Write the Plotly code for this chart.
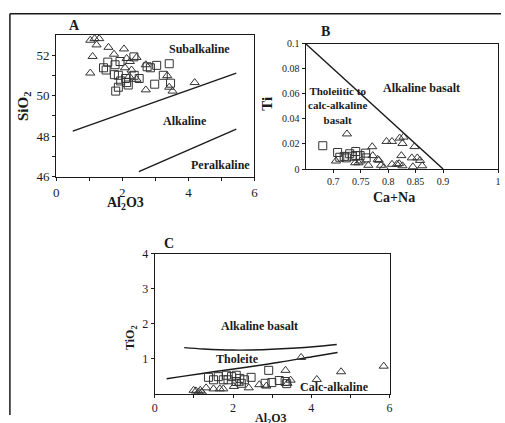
import plotly.graph_objects as go

W, H = 505, 423

# ---------------- Panel A data (Al2O3 vs SiO2) ----------------
a_tri_x = [1.03, 1.16, 1.30, 1.22, 1.10, 1.03, 1.58, 1.75, 2.05, 2.13, 2.08, 2.28, 2.23, 2.43, 2.21, 2.43, 2.71, 2.71, 3.36, 3.42, 3.52, 4.19]
a_tri_y = [52.74, 52.82, 52.82, 52.51, 51.94, 51.12, 52.39, 52.05, 52.31, 51.84, 51.38, 51.27, 51.69, 51.89, 50.96, 50.81, 50.29, 51.53, 50.99, 50.42, 50.23, 50.65]
a_sq_x = [1.43, 1.51, 1.56, 1.78, 1.93, 1.76, 1.88, 1.95, 2.10, 2.13, 2.18, 1.88, 1.80, 2.35, 2.36, 2.51, 2.75, 2.85, 3.04, 2.98, 3.24, 3.42, 3.46]
a_sq_y = [51.38, 51.27, 51.66, 51.53, 51.69, 51.04, 51.01, 50.73, 50.85, 50.65, 50.53, 50.42, 50.23, 51.92, 51.01, 50.85, 51.43, 51.38, 51.50, 50.57, 51.01, 51.58, 50.62]
a_line1_x = [0.5, 5.45]
a_line1_y = [48.25, 51.12]
a_line2_x = [2.5, 5.45]
a_line2_y = [46.25, 48.35]

# ---------------- Panel B data (Ca+Na vs Ti) ----------------
b_tri_x = [0.725, 0.705, 0.740, 0.746, 0.750, 0.764, 0.771, 0.772, 0.781, 0.783, 0.787, 0.792, 0.797, 0.807, 0.807, 0.816, 0.820, 0.821, 0.824, 0.826, 0.826, 0.828, 0.843, 0.845, 0.848, 0.853, 0.858, 0.862]
b_tri_y = [0.028, 0.0064, 0.005, 0.005, 0.0064, 0.003, 0.0178, 0.0107, 0.0077, 0.007, 0.003, 0.0013, 0.022, 0.022, 0.0038, 0.0038, 0.0043, 0.0247, 0.0107, 0.0204, 0.0026, 0.0255, 0.0089, 0.0018, 0.0179, 0.0089, 0.0069, 0.0026]
b_sq_x = [0.681, 0.708, 0.712, 0.720, 0.724, 0.730, 0.735, 0.741, 0.741, 0.749, 0.759, 0.760]
b_sq_y = [0.0186, 0.0132, 0.0094, 0.0101, 0.0089, 0.0122, 0.0102, 0.014, 0.0107, 0.0107, 0.0127, 0.0089]
b_line_x = [0.65, 0.90]
b_line_y = [0.10, 0.0]

# ---------------- Panel C data (Al2O3 vs TiO2) ----------------
c_tri_x = [3.74, 3.34, 4.76, 5.85, 4.14, 3.47, 3.39, 2.67, 2.40, 2.02, 1.75, 1.66, 1.50, 1.31, 1.16, 1.05, 0.99, 1.12, 1.20, 2.15, 2.85]
c_tri_y = [1.04, 0.67, 0.63, 0.79, 0.41, 0.39, 0.30, 0.26, 0.17, 0.21, 0.14, 0.14, 0.14, 0.17, 0.10, 0.08, 0.10, 0.05, 0.05, 0.30, 0.22]
c_sq_x = [2.91, 1.37, 1.50, 1.62, 1.83, 1.96, 2.08, 2.17, 2.29, 2.46, 1.87, 2.08, 2.21, 2.82, 2.99, 3.18, 3.33, 3.37, 1.75]
c_sq_y = [0.67, 0.47, 0.40, 0.49, 0.53, 0.49, 0.53, 0.44, 0.40, 0.47, 0.40, 0.35, 0.30, 0.30, 0.32, 0.38, 0.35, 0.29, 0.40]
c_upper_x = [0.75, 1.25, 2.0, 2.75, 3.5, 4.2, 4.65]
c_upper_y = [1.32, 1.28, 1.25, 1.26, 1.30, 1.36, 1.41]
c_lower_x = [0.30, 0.66, 1.50, 2.34, 3.18, 4.02, 4.67]
c_lower_y = [0.43, 0.49, 0.63, 0.76, 0.90, 1.06, 1.18]

SERIF = "Liberation Serif, Times New Roman, serif"
INK = "#1a1a1a"


def px(x):
    return x / W


def py(y):
    return 1 - y / H


fig = go.Figure()

mk_tri = dict(symbol="triangle-up-open", size=8, color="#333", line=dict(width=1))
mk_sq = dict(symbol="square-open", size=8, color="#333", line=dict(width=1))
ln = dict(color=INK, width=1.4)

# Panel A
fig.add_trace(go.Scatter(x=a_line1_x, y=a_line1_y, mode="lines", line=ln, xaxis="x", yaxis="y"))
fig.add_trace(go.Scatter(x=a_line2_x, y=a_line2_y, mode="lines", line=ln, xaxis="x", yaxis="y"))
fig.add_trace(go.Scatter(x=a_tri_x, y=a_tri_y, mode="markers", marker=mk_tri, xaxis="x", yaxis="y", cliponaxis=False))
fig.add_trace(go.Scatter(x=a_sq_x, y=a_sq_y, mode="markers", marker=mk_sq, xaxis="x", yaxis="y"))

# Panel B
fig.add_trace(go.Scatter(x=b_line_x, y=b_line_y, mode="lines", line=ln, xaxis="x2", yaxis="y2"))
fig.add_trace(go.Scatter(x=b_tri_x, y=b_tri_y, mode="markers", marker=mk_tri, xaxis="x2", yaxis="y2", cliponaxis=False))
fig.add_trace(go.Scatter(x=b_sq_x, y=b_sq_y, mode="markers", marker=mk_sq, xaxis="x2", yaxis="y2"))

# Panel C
fig.add_trace(go.Scatter(x=c_upper_x, y=c_upper_y, mode="lines", line=dict(color=INK, width=1.4, shape="spline"), xaxis="x3", yaxis="y3"))
fig.add_trace(go.Scatter(x=c_lower_x, y=c_lower_y, mode="lines", line=dict(color=INK, width=1.4, shape="spline"), xaxis="x3", yaxis="y3"))
fig.add_trace(go.Scatter(x=c_tri_x, y=c_tri_y, mode="markers", marker=mk_tri, xaxis="x3", yaxis="y3", cliponaxis=False))
fig.add_trace(go.Scatter(x=c_sq_x, y=c_sq_y, mode="markers", marker=mk_sq, xaxis="x3", yaxis="y3", cliponaxis=False))


def axis(domain, rng, fsize, anchor, tickvals, ticktext=None, minor=None):
    d = dict(domain=domain, range=rng, tickvals=tickvals,
             showgrid=False, zeroline=False, showline=True, linecolor=INK, linewidth=1.3,
             mirror=True, ticks="outside", ticklen=3, tickcolor=INK, tickwidth=1,
             tickfont=dict(family=SERIF, size=fsize, color=INK), anchor=anchor, fixedrange=True)
    if ticktext:
        d["ticktext"] = ticktext
    if minor:
        d["minor"] = dict(tickvals=minor, ticks="outside", ticklen=3, tickcolor=INK, tickwidth=1)
    return d


layout_axes = dict(
    xaxis=axis([px(54), px(255)], [0, 6], 13, "y", [0, 2, 4, 6], minor=[1, 3, 5]),
    yaxis=axis([py(176), py(29)], [46, 53], 13, "x", [46, 48, 50, 52], minor=[47, 49, 51]),
    xaxis2=axis([px(307), px(502)], [0.65, 1.0], 10, "y2", [0.7, 0.75, 0.8, 0.85, 0.9, 1.0],
                ["0.7", "0.75", "0.8", "0.85", "0.9", "1"]),
    yaxis2=axis([py(168), py(38)], [0, 0.1], 10, "x2", [0, 0.02, 0.04, 0.06, 0.08, 0.1],
                ["0", "0.02", "0.04", "0.06", "0.08", "0.1"]),
    xaxis3=axis([px(154), px(392)], [0, 6], 12, "y3", [0, 2, 4, 6], minor=[1, 3, 5]),
    yaxis3=axis([py(401), py(256)], [0, 4], 12, "x3", [1, 2, 3, 4], ["1", "2", "3", "4"]),
)


def ann(text, x, y, size, xref="paper", yref="paper", angle=0, xanchor="center", yanchor="middle", bold=True):
    return dict(text=f"<b>{text}</b>" if bold else text, x=x, y=y, xref=xref, yref=yref, showarrow=False,
                textangle=angle, xanchor=xanchor, yanchor=yanchor,
                font=dict(family=SERIF, size=size, color=INK))


annotations = [
    # panel letters
    ann("A", px(73), py(19), 14),
    ann("B", px(327), py(25), 14),
    ann("C", px(168), py(245), 14),
    # axis titles
    ann("SiO<sub>2</sub>", px(22), py(103), 15, angle=-90),
    ann("Al<sub>2</sub>O3", px(124), py(204), 14),
    ann("Ti", px(268), py(100), 15, angle=-90),
    ann("Ca+Na", px(397), py(197), 14),
    ann("TiO<sub>2</sub>", px(130), py(343), 12, angle=-90),
    ann("Al<sub>2</sub>O3", px(272), py(417), 12, yanchor="top"),
    # region labels A
    ann("Subalkaline", 4.35, 52.33, 12, "x", "y"),
    ann("Alkaline", 3.9, 48.76, 12, "x", "y"),
    ann("Peralkaline", 4.98, 46.6, 12, "x", "y"),
    # region labels B
    ann("Alkaline basalt", 0.86, 0.065, 12, "x2", "y2"),
    ann("Tholeiitic to<br>calc-alkaline<br>basalt", 0.707, 0.0505, 11, "x2", "y2"),
    # region labels C
    ann("Alkaline basalt", 2.67, 1.95, 12, "x3", "y3"),
    ann("Tholeite", 2.10, 1.0, 12, "x3", "y3"),
    ann("Calc-alkaline", 4.58, 0.2, 12, "x3", "y3"),
]

shapes = [
    dict(type="line", xref="paper", yref="paper", x0=px(7), y0=py(7), x1=1, y1=py(7),
         line=dict(color=INK, width=1.5)),
    dict(type="line", xref="paper", yref="paper", x0=px(7), y0=py(7), x1=px(7), y1=0,
         line=dict(color=INK, width=1.5)),
]

fig.update_layout(
    width=W, height=H,
    margin=dict(l=0, r=0, t=0, b=0),
    paper_bgcolor="white", plot_bgcolor="white",
    showlegend=False,
    annotations=annotations,
    shapes=shapes,
    **layout_axes,
)

fig.write_html("out.html", config={"displayModeBar": False},
               post_script="document.body.style.margin='0px';document.body.style.overflow='hidden';")
